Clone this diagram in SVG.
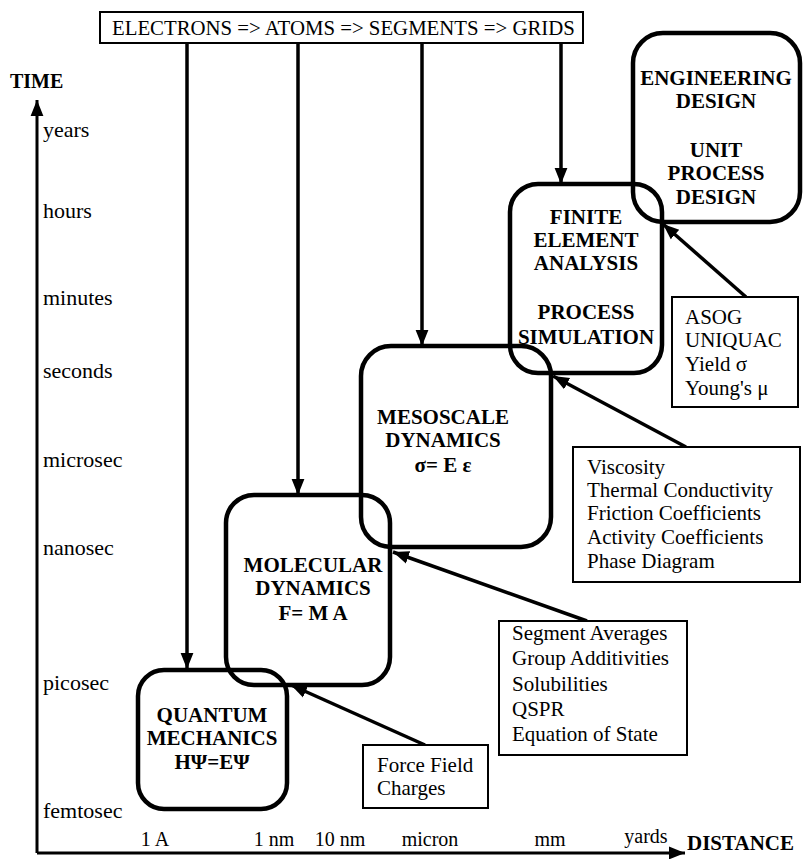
<svg xmlns="http://www.w3.org/2000/svg" width="804" height="859" viewBox="0 0 804 859">
<style>
  .box { fill: none; stroke: #000; stroke-width: 4.5; }
  .lbl { fill: #fff; stroke: #000; stroke-width: 2; }
  .con { stroke: #000; stroke-width: 3.5; fill: none; }
  .axis { stroke: #000; stroke-width: 3; fill: none; }
  text { font-family: "Liberation Serif", "Times New Roman", serif; fill: #000; }
  .b { font-weight: bold; font-size: 21px; text-anchor: middle; }
  .r { font-size: 21px; }
  .t { font-size: 22px; }
  .ax { font-size: 20px; text-anchor: middle; }
</style>
<defs>
  <marker id="ah" markerUnits="userSpaceOnUse" markerWidth="16" markerHeight="20" viewBox="0 0 20 16" refX="20" refY="8" orient="auto">
    <path d="M0,0 L20,8 L0,16 Z" fill="#000"/>
  </marker>
</defs>
<rect width="804" height="859" fill="#fff"/>

<g id="axes">
  <line class="axis" x1="37" y1="853" x2="37" y2="100" marker-end="url(#ah)"/>
  <line class="axis" x1="37" y1="853" x2="685" y2="853" marker-end="url(#ah)"/>
  <text x="10" y="88" style="font-weight:bold;font-size:20px">TIME</text>
  <text x="687" y="850" style="font-weight:bold;font-size:21px">DISTANCE</text>
  <text class="t" x="43" y="137">years</text>
  <text class="t" x="43" y="218">hours</text>
  <text class="t" x="43" y="305">minutes</text>
  <text class="t" x="43" y="378">seconds</text>
  <text class="t" x="43" y="467">microsec</text>
  <text class="t" x="43" y="555">nanosec</text>
  <text class="t" x="43" y="690">picosec</text>
  <text class="t" x="43" y="818">femtosec</text>
  <text class="ax" x="155" y="846">1 A</text>
  <text class="ax" x="274" y="846">1 nm</text>
  <text class="ax" x="340" y="846">10 nm</text>
  <text class="ax" x="430" y="846">micron</text>
  <text class="ax" x="550" y="846">mm</text>
  <text class="ax" x="646" y="843">yards</text>
</g>

<g id="banner">
  <rect class="lbl" x="100" y="12" width="483" height="31"/>
  <text x="112" y="35" style="font-size:20.8px">ELECTRONS =&gt; ATOMS =&gt; SEGMENTS =&gt; GRIDS</text>
</g>

<g id="connectors">
  <line class="con" x1="187" y1="43" x2="187" y2="669" marker-end="url(#ah)"/>
  <line class="con" x1="298" y1="43" x2="298" y2="495" marker-end="url(#ah)"/>
  <line class="con" x1="422" y1="43" x2="422" y2="346" marker-end="url(#ah)"/>
  <line class="con" x1="561" y1="43" x2="561" y2="184" marker-end="url(#ah)"/>
  <line class="con" x1="746" y1="297" x2="663" y2="224" marker-end="url(#ah)"/>
  <line class="con" x1="686" y1="447" x2="553" y2="376" marker-end="url(#ah)"/>
  <line class="con" x1="587" y1="621" x2="393" y2="552" marker-end="url(#ah)"/>
  <line class="con" x1="425" y1="745" x2="291" y2="685" marker-end="url(#ah)"/>
</g>

<g id="quantum">
  <rect class="box" x="138" y="670" width="149" height="139" rx="26"/>
  <text class="b" x="212" y="722">QUANTUM</text>
  <text class="b" x="212" y="745">MECHANICS</text>
  <text class="b" x="212" y="769">HΨ=EΨ</text>
</g>

<g id="molecular">
  <rect class="box" x="226" y="495" width="164" height="190" rx="28"/>
  <text class="b" x="313" y="572">MOLECULAR</text>
  <text class="b" x="313" y="595">DYNAMICS</text>
  <text class="b" x="313" y="620">F= M A</text>
</g>

<g id="mesoscale">
  <rect class="box" x="361" y="346" width="190" height="201" rx="30"/>
  <text class="b" x="443" y="424">MESOSCALE</text>
  <text class="b" x="443" y="447">DYNAMICS</text>
  <text class="b" x="443" y="472">σ= E ε</text>
</g>

<g id="finite">
  <rect class="box" x="510" y="184" width="152" height="189" rx="28"/>
  <text class="b" x="586" y="224">FINITE</text>
  <text class="b" x="586" y="247">ELEMENT</text>
  <text class="b" x="586" y="270">ANALYSIS</text>
  <text class="b" x="586" y="319">PROCESS</text>
  <text class="b" x="586" y="344">SIMULATION</text>
</g>

<g id="engineering">
  <rect class="box" x="633" y="33" width="167" height="189" rx="30"/>
  <text class="b" x="716" y="85">ENGINEERING</text>
  <text class="b" x="716" y="108">DESIGN</text>
  <text class="b" x="716" y="157">UNIT</text>
  <text class="b" x="716" y="180">PROCESS</text>
  <text class="b" x="716" y="204">DESIGN</text>
</g>

<g id="asog">
  <rect class="lbl" x="672" y="297" width="126" height="110"/>
  <text class="r" x="685" y="324">ASOG</text>
  <text class="r" x="685" y="347">UNIQUAC</text>
  <text class="r" x="685" y="371">Yield σ</text>
  <text class="r" x="685" y="395">Young's μ</text>
</g>

<g id="viscosity">
  <rect class="lbl" x="573" y="447" width="227" height="135"/>
  <text class="r" x="587" y="474">Viscosity</text>
  <text class="r" x="587" y="497">Thermal Conductivity</text>
  <text class="r" x="587" y="520">Friction Coefficients</text>
  <text class="r" x="587" y="544">Activity Coefficients</text>
  <text class="r" x="587" y="568">Phase Diagram</text>
</g>

<g id="segment">
  <rect class="lbl" x="499" y="621" width="188" height="134"/>
  <text class="r" x="512" y="640">Segment Averages</text>
  <text class="r" x="512" y="665">Group Additivities</text>
  <text class="r" x="512" y="691">Solubilities</text>
  <text class="r" x="512" y="716">QSPR</text>
  <text class="r" x="512" y="741">Equation of State</text>
</g>

<g id="forcefield">
  <rect class="lbl" x="363" y="745" width="125" height="63"/>
  <text class="r" x="377" y="772">Force Field</text>
  <text class="r" x="377" y="795">Charges</text>
</g>
</svg>
